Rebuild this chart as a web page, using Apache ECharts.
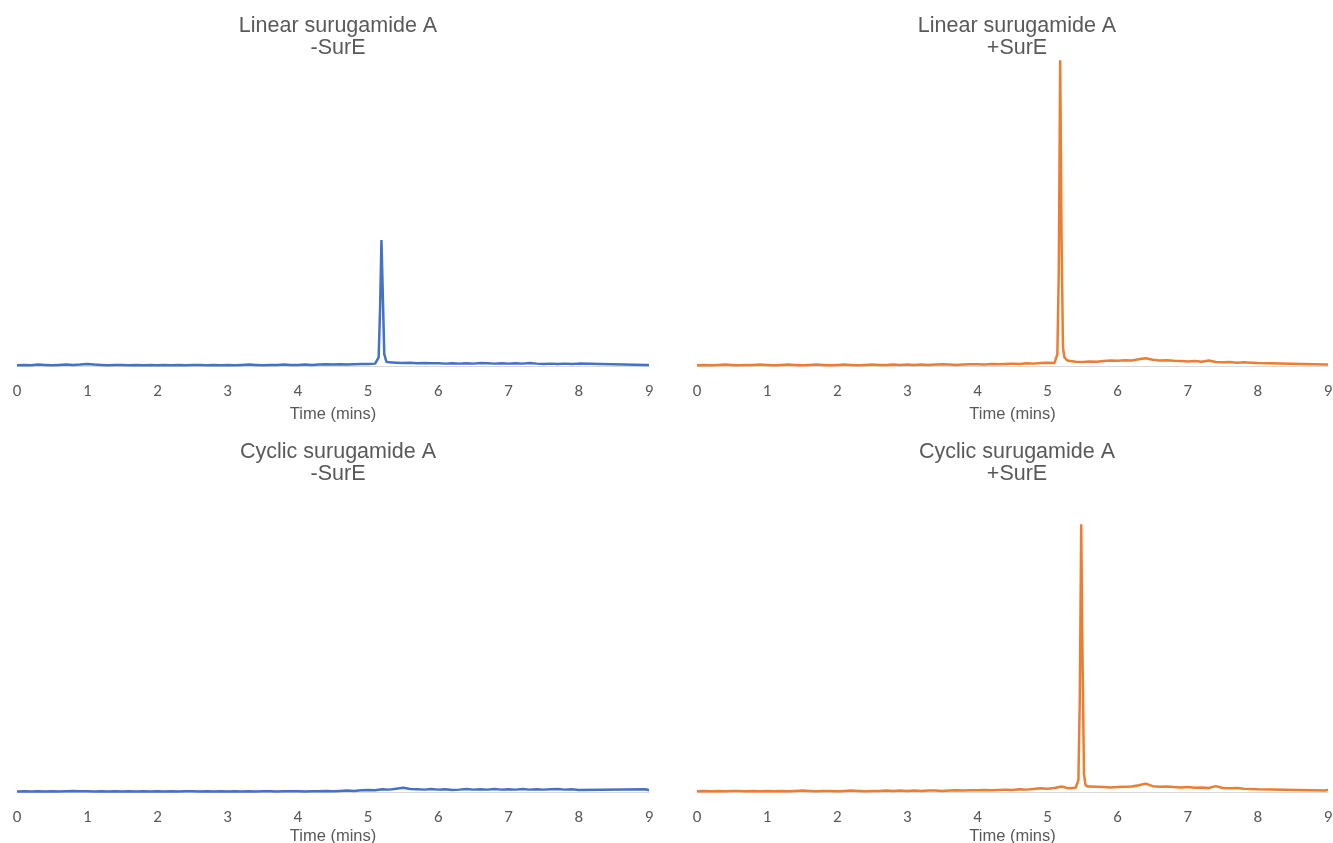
<!DOCTYPE html>
<html>
<head>
<meta charset="utf-8">
<script src="https://cdn.jsdelivr.net/npm/echarts@6/dist/echarts.min.js"></script>
<style>
  html, body { margin: 0; padding: 0; background: #fff; }
  #main { width: 1333px; height: 843px; }
</style>
</head>
<body>
<div id="main"></div>
<script>
// shared sampling times (mins)
var times = [
  0.0, 0.1, 0.2, 0.3, 0.4, 0.5, 0.6, 0.7, 0.8, 0.9,
  1.0, 1.1, 1.2, 1.3, 1.4, 1.5, 1.6, 1.7, 1.8, 1.9,
  2.0, 2.1, 2.2, 2.3, 2.4, 2.5, 2.6, 2.7, 2.8, 2.9,
  3.0, 3.1, 3.2, 3.3, 3.4, 3.5, 3.6, 3.7, 3.8, 3.9,
  4.0, 4.1, 4.2, 4.3, 4.4, 4.5, 4.6, 4.7, 4.8, 4.9,
  5.0, 5.1, 5.2, 5.3, 5.4, 5.5, 5.6, 5.7, 5.8, 5.9,
  6.0, 6.1, 6.2, 6.3, 6.4, 6.5, 6.6, 6.7, 6.8, 6.9,
  7.0, 7.1, 7.2, 7.3, 7.4, 7.5, 7.6, 7.7, 7.8, 7.9,
  8.0, 8.95, 9.0
];

// baseline intensities (relative units)
var linearMinus = [
  0.5, 0.6, 0.5, 0.7, 0.6, 0.5, 0.6, 0.7, 0.6, 0.7,
  0.9, 0.7, 0.6, 0.5, 0.6, 0.6, 0.5, 0.6, 0.5, 0.6,
  0.5, 0.6, 0.5, 0.6, 0.5, 0.6, 0.6, 0.5, 0.6, 0.5,
  0.6, 0.5, 0.6, 0.7, 0.6, 0.5, 0.6, 0.6, 0.7, 0.6,
  0.6, 0.7, 0.6, 0.7, 0.8, 0.7, 0.8, 0.7, 0.8, 0.9,
  0.9, 1.0, 1.0, 1.4, 1.3, 1.2, 1.3, 1.1, 1.2, 1.1,
  1.1, 1.0, 1.1, 1.0, 1.1, 1.0, 1.2, 1.1, 1.0, 1.1,
  1.0, 1.1, 1.0, 1.2, 1.0, 0.9, 1.0, 0.9, 1.0, 0.9,
  1.0, 0.6, 0.6
];
var linearPlus = [
  0.5, 0.6, 0.5, 0.6, 0.7, 0.6, 0.5, 0.6, 0.6, 0.7,
  0.6, 0.5, 0.6, 0.7, 0.6, 0.5, 0.6, 0.7, 0.6, 0.5,
  0.6, 0.7, 0.6, 0.5, 0.6, 0.7, 0.6, 0.6, 0.7, 0.6,
  0.7, 0.6, 0.7, 0.6, 0.7, 0.8, 0.7, 0.6, 0.7, 0.8,
  0.8, 0.7, 0.9, 0.8, 0.9, 1.0, 0.9, 1.1, 1.0, 1.2,
  1.3, 1.2, 1.5, 1.9, 1.6, 1.5, 1.7, 1.6, 1.8, 2.0,
  1.9, 2.1, 2.0, 2.4, 2.7, 2.2, 2.0, 2.1, 1.9, 1.8,
  1.7, 1.8, 1.6, 2.0, 1.5, 1.4, 1.5, 1.3, 1.4, 1.3,
  1.2, 0.7, 0.7
];
var cyclicMinus = [
  0.4, 0.5, 0.4, 0.5, 0.4, 0.5, 0.4, 0.5, 0.6, 0.5,
  0.5, 0.4, 0.5, 0.4, 0.5, 0.4, 0.5, 0.4, 0.5, 0.4,
  0.5, 0.4, 0.5, 0.4, 0.5, 0.5, 0.4, 0.5, 0.4, 0.5,
  0.4, 0.5, 0.4, 0.5, 0.4, 0.5, 0.5, 0.4, 0.5, 0.5,
  0.5, 0.4, 0.5, 0.5, 0.6, 0.5, 0.6, 0.7, 0.6, 0.8,
  0.9, 0.8, 1.1, 1.0, 1.3, 1.6, 1.2, 1.1, 1.0, 1.2,
  1.0, 1.1, 0.9, 1.0, 1.2, 1.0, 1.1, 1.0, 1.2, 1.0,
  1.1, 1.0, 1.2, 1.0, 1.1, 1.0, 1.1, 1.2, 1.0, 1.1,
  0.9, 1.1, 0.8
];
var cyclicPlus = [
  0.5, 0.6, 0.5, 0.6, 0.5, 0.6, 0.6, 0.5, 0.6, 0.5,
  0.6, 0.5, 0.6, 0.5, 0.6, 0.7, 0.6, 0.5, 0.6, 0.6,
  0.5, 0.6, 0.7, 0.6, 0.5, 0.6, 0.6, 0.7, 0.6, 0.7,
  0.6, 0.7, 0.6, 0.7, 0.7, 0.6, 0.7, 0.8, 0.7, 0.8,
  0.8, 0.9, 0.8, 0.9, 1.0, 0.9, 1.1, 1.0, 1.2, 1.4,
  1.3, 1.5, 2.0, 1.4, 1.6, 1.8, 2.0, 1.9, 1.8, 1.7,
  1.8, 1.9, 2.0, 2.4, 2.9, 2.1, 1.9, 2.0, 1.8, 1.7,
  1.8, 1.6, 1.7, 1.5, 2.1, 1.5, 1.4, 1.5, 1.3, 1.2,
  1.1, 0.7, 0.9
];

// peaks [time, intensity]
var linearMinusPeak = [[5.12, 1.0], [5.15, 3], [5.17, 18], [5.19, 40], [5.21, 22], [5.23, 4], [5.26, 1.6]];
var linearPlusPeak = [[5.11, 1.4], [5.14, 4], [5.16, 30], [5.18, 96.8], [5.20, 40], [5.22, 6], [5.24, 3], [5.27, 2.2]];
var cyclicMinusPeak = [];
var cyclicPlusPeak = [[5.41, 1.5], [5.44, 4], [5.46, 30], [5.48, 84.8], [5.50, 40], [5.52, 6], [5.54, 2.5], [5.57, 2.0]];

var titles = [
  'Linear surugamide A\n-SurE',
  'Linear surugamide A\n+SurE',
  'Cyclic surugamide A\n-SurE',
  'Cyclic surugamide A\n+SurE'
];
var BLUE = '#4472C4';
var ORANGE = '#ED7D31';

function buildSeries(values, peak) {
  var pts = [];
  var lo = peak.length ? peak[0][0] : Infinity;
  var hi = peak.length ? peak[peak.length - 1][0] : -Infinity;
  for (var i = 0; i < times.length; i++) {
    if (times[i] >= lo && times[i] <= hi) continue;
    pts.push([times[i], values[i]]);
  }
  pts = pts.concat(peak);
  pts.sort(function(a, b) { return a[0] - b[0]; });
  return pts;
}

var grids = [
  { left: 17, right: 684, top: 50, bottom: 477, outerBoundsMode: 'none', containLabel: false },
  { left: 697, right: 5, top: 50, bottom: 477, outerBoundsMode: 'none', containLabel: false },
  { left: 17, right: 684, top: 476, bottom: 51, outerBoundsMode: 'none', containLabel: false },
  { left: 697, right: 5, top: 476, bottom: 51, outerBoundsMode: 'none', containLabel: false }
];
var titleX = [333, 1012, 333, 1012];
var titleY = [10, 10, 436, 436];
var nameGaps = [40, 40, 36, 36];

var dom = document.getElementById('main');
var chart = echarts.init(dom);

var option = {
  animation: false,
  title: titles.map(function(t, i) {
    return {
      text: t,
      left: titleX[i],
      top: titleY[i],
      textAlign: 'center',
      textStyle: {
        fontFamily: 'Liberation Sans, Arial, sans-serif',
        fontSize: 21.5,
        fontWeight: 'normal',
        color: '#595959',
        lineHeight: 22
      }
    };
  }),
  grid: grids,
  xAxis: grids.map(function(g, i) {
    return {
      type: 'value',
      gridIndex: i,
      min: 0,
      max: 9,
      interval: 1,
      name: 'Time (mins)',
      nameLocation: 'middle',
      nameGap: nameGaps[i],
      nameTextStyle: {
        fontFamily: 'Liberation Sans, Arial, sans-serif',
        fontSize: 16.5,
        color: '#595959'
      },
      axisLine: { show: true, onZero: false, lineStyle: { color: '#d9d9d9', width: 1 } },
      axisTick: { show: false },
      splitLine: { show: false },
      axisLabel: {
        margin: 17,
        fontFamily: 'Carlito, Open Sans, sans-serif',
        fontSize: 17,
        color: '#595959'
      }
    };
  }),
  yAxis: grids.map(function(g, i) {
    return { type: 'value', gridIndex: i, min: 0.25, max: 100, show: false };
  }),
  series: [
    { data: buildSeries(linearMinus, linearMinusPeak), color: BLUE },
    { data: buildSeries(linearPlus, linearPlusPeak), color: ORANGE },
    { data: buildSeries(cyclicMinus, cyclicMinusPeak), color: BLUE },
    { data: buildSeries(cyclicPlus, cyclicPlusPeak), color: ORANGE }
  ].map(function(s, i) {
    return {
      type: 'line',
      xAxisIndex: i,
      yAxisIndex: i,
      data: s.data,
      showSymbol: false,
      symbol: 'none',
      lineStyle: { color: s.color, width: 2.5 },
      itemStyle: { color: s.color }
    };
  })
};
chart.setOption(option);
</script>
</body>
</html>
